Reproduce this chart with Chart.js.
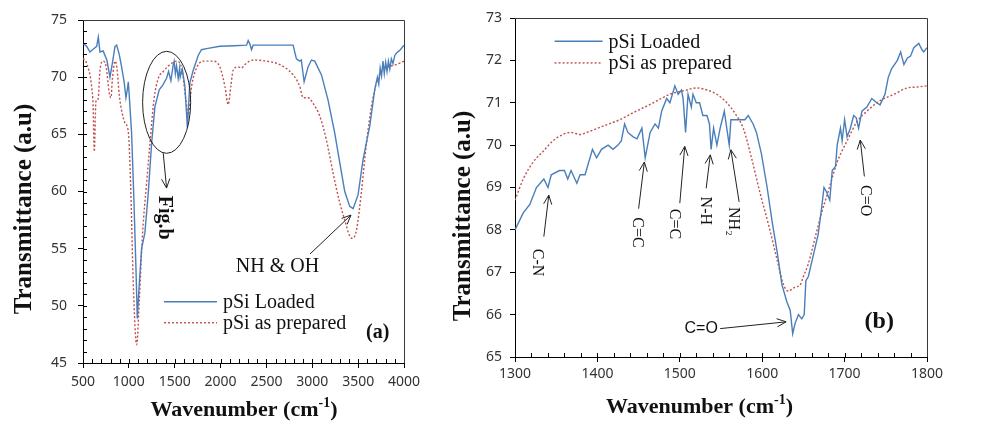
<!DOCTYPE html>
<html lang="en">
<head>
<meta charset="UTF-8">
<title>FTIR - pSi Loaded vs pSi as prepared</title>
<script src="https://cdn.jsdelivr.net/npm/chart.js"></script>
<style>
  html, body { margin: 0; padding: 0; background: #fff; }
  .panel { position: absolute; top: 0; }
  #panelA { left: 0; width: 420px; height: 421px; }
  #panelB { left: 420px; width: 569px; height: 421px; }
</style>
</head>
<body>
<div class="panel" id="panelA"><canvas id="chartA" width="420" height="421"></canvas></div>
<div class="panel" id="panelB"><canvas id="chartB" width="569" height="421"></canvas></div>
<script>
// ---- panel (a): full range ----
const aLoadedWn = [500, 540, 576, 620, 649, 667, 685, 720, 760, 794, 820, 849, 867, 895, 921, 950, 968, 985, 994, 1005,
  1030, 1055, 1077, 1092, 1114, 1139, 1175, 1212, 1248, 1284, 1331, 1370, 1411, 1433, 1458, 1484, 1494, 1507, 1520, 1538,
  1554, 1560, 1583, 1611, 1638,
  1665, 1702, 1756, 1792, 1847, 1992, 2150, 2283, 2301, 2320, 2337, 2355, 2500, 2650, 2791, 2815, 2827, 2863, 2880, 2911,
  2954, 2991, 3027, 3100, 3172, 3245, 3300, 3354, 3408, 3445, 3499, 3554, 3626, 3681, 3710, 3725, 3740, 3755, 3771, 3785,
  3800, 3815, 3830, 3845, 3862, 3880, 3900, 3916, 3960, 4000];
const aLoadedT = [72.96, 72.7, 72.2, 72.5, 72.7, 73.5, 72.2, 72.3, 71.5, 70.0, 71.2, 72.7, 72.8, 72.0, 70.9, 69.5, 68.2, 69.0, 69.6, 68.3,
  65.1, 59.3, 53.4, 48.9, 52.0, 55.0, 56.4, 59.9, 64.2, 67.4, 68.9, 69.3, 69.9, 70.5, 69.7, 71.1, 71.4, 70.3, 71.0, 69.9,
  70.8, 70.0, 70.7, 69.2, 65.6,
  69.5, 70.6, 71.9, 72.4, 72.5, 72.7, 72.75, 72.8, 73.2, 72.9, 72.4, 72.8, 72.8, 72.8, 72.8, 72.0, 71.6, 71.4, 71.5, 69.6,
  70.9, 71.5, 71.4, 70.2, 68.0, 65.1, 62.5, 60.0, 58.7, 58.5, 59.7, 62.8, 65.7, 68.9, 70.0, 69.4, 70.8, 70.1, 71.4, 70.3,
  71.3, 70.5, 71.4, 70.7, 71.6, 71.2, 71.9, 72.1, 72.4, 72.8];
const aPrepWn = [500, 540, 594, 610, 623, 640, 649, 665, 685, 721, 750, 787, 805, 820, 849, 870, 896, 921, 957, 994,
  1019, 1048, 1085, 1114, 1150, 1193, 1230, 1273, 1321, 1375, 1448, 1520, 1575, 1622, 1647, 1684, 1738, 1811, 1920, 1992,
  2047, 2083, 2112, 2137, 2192, 2228, 2264, 2355, 2500, 2646, 2791, 2863, 2900, 2954, 3009, 3081, 3154, 3227, 3300, 3354,
  3408, 3438, 3481, 3535, 3590, 3644, 3699, 3753, 3826, 3916, 4000];
const aPrepT = [71.65, 71.2, 69.2, 67.5, 63.5, 67.8, 68.0, 68.1, 70.6, 71.4, 71.0, 68.6, 68.2, 69.8, 71.4, 70.8, 68.4, 67.1, 66.0, 65.2,
  60.7, 52.0, 46.6, 50.5, 56.4, 60.7, 64.2, 68.0, 69.9, 70.5, 71.1, 71.4, 70.8, 68.0, 66.7, 69.2, 70.8, 71.4, 71.4, 70.9,
  69.2, 67.6, 69.2, 70.6, 70.9, 70.8, 71.1, 71.5, 71.4, 71.1, 70.2, 69.2, 68.2, 68.2, 67.7, 66.6, 64.5, 61.6, 59.0, 57.5,
  56.1, 55.9, 56.6, 59.9, 64.2, 67.4, 69.5, 70.5, 70.9, 71.1, 71.4];
const aXTicks = [500, 1000, 1500, 2000, 2500, 3000, 3500, 4000];
const aYTicks = [45, 50, 55, 60, 65, 70, 75];

// ---- panel (b): 1300-1800 zoom ----
const bLoadedWn = [1300, 1310, 1318, 1326, 1335, 1340, 1344, 1354, 1360, 1364, 1368, 1375, 1379, 1385, 1394, 1399, 1405, 1413, 1419, 1425,
  1429, 1433, 1437, 1443, 1448, 1454, 1458, 1464, 1470, 1474, 1478, 1484, 1488, 1494, 1498, 1502, 1504, 1507, 1510, 1514,
  1516, 1520, 1524, 1528, 1533, 1536, 1538, 1541, 1545, 1549, 1554, 1557, 1560, 1562, 1567, 1573, 1579, 1583, 1589, 1593,
  1599, 1606, 1612, 1618, 1624, 1630, 1634, 1637, 1640, 1644, 1648, 1651, 1653, 1656, 1662, 1668, 1672, 1675, 1678, 1682,
  1685, 1689, 1691, 1695, 1697, 1700, 1703, 1707, 1711, 1714, 1717, 1721, 1727, 1733, 1739, 1743, 1749, 1753, 1757, 1764,
  1768, 1772, 1776, 1780, 1784, 1790, 1794, 1796, 1800];
const bLoadedT = [68.0, 68.4, 68.6, 69.0, 69.2, 69.0, 69.3, 69.4, 69.4, 69.2, 69.4, 69.1, 69.3, 69.3, 69.9, 69.7, 69.9, 70.0, 69.9, 70.0,
  70.1, 70.5, 70.3, 70.2, 70.15, 70.4, 69.7, 70.3, 70.5, 70.4, 70.8, 71.1, 71.0, 71.4, 71.2, 71.3, 71.1, 70.3, 71.2, 70.9,
  71.2, 71.0, 71.0, 70.7, 70.7, 70.5, 69.9, 70.4, 70.0, 70.4, 70.8, 70.4, 70.0, 70.6, 70.6, 70.6, 70.6, 70.7, 70.5, 70.3,
  69.8, 69.0, 68.2, 67.5, 66.7, 66.3, 66.1, 65.55, 65.8, 66.0, 65.9, 66.0, 66.8, 66.9, 67.4, 67.9, 68.5, 69.0, 68.9, 68.7,
  69.4, 69.5, 70.0, 70.4, 70.1, 70.6, 70.2, 70.4, 70.7, 70.65, 70.4, 70.8, 70.9, 71.1, 71.0, 70.95, 71.2, 71.6, 71.8, 72.0,
  72.2, 71.9, 72.05, 72.1, 72.3, 72.4, 72.25, 72.2, 72.3];
const bPrepWn = [1300, 1310, 1322, 1334, 1346, 1358, 1368, 1379, 1387, 1407, 1427, 1447, 1468, 1488, 1508, 1520, 1533, 1545, 1557, 1567,
  1577, 1587, 1597, 1608, 1618, 1626, 1632, 1636, 1640, 1646, 1650, 1656, 1664, 1672, 1680, 1691, 1703, 1715, 1727, 1743,
  1760, 1776, 1788, 1800];
const bPrepT = [68.7, 69.2, 69.6, 69.85, 70.1, 70.25, 70.3, 70.25, 70.3, 70.45, 70.6, 70.8, 71.0, 71.2, 71.3, 71.35, 71.3, 71.2, 71.0, 70.75,
  70.4, 69.7, 68.9, 68.1, 67.3, 66.7, 66.55, 66.6, 66.65, 66.7, 66.9, 67.2, 67.8, 68.4, 68.9, 69.6, 70.1, 70.55, 70.8, 71.05,
  71.2, 71.35, 71.37, 71.4];
const bXTicks = [1300, 1400, 1500, 1600, 1700, 1800];
const bYTicks = [65, 66, 67, 68, 69, 70, 71, 72, 73];

const seriesNames = ['pSi Loaded', 'pSi as prepared'];

const SERIF = '"Liberation Serif", "Times New Roman", serif';
const SANS = '"Noto Sans", "Liberation Sans", sans-serif';
Chart.defaults.font.family = SANS;
Chart.defaults.color = '#333';

function pairs(xs, ys) { return xs.map((x, i) => ({ x: x, y: ys[i] })); }

// open arrow head, like the office drawing tool
function arrow(ctx, x1, y1, x2, y2) {
  const ang = Math.atan2(y2 - y1, x2 - x1), h = 10, w = 0.42;
  ctx.beginPath();
  ctx.moveTo(x1, y1); ctx.lineTo(x2, y2);
  ctx.moveTo(x2 - h * Math.cos(ang - w), y2 - h * Math.sin(ang - w));
  ctx.lineTo(x2, y2);
  ctx.lineTo(x2 - h * Math.cos(ang + w), y2 - h * Math.sin(ang + w));
  ctx.stroke();
}

// frame, minor ticks, titles, legend and annotations
const deco = {
  id: 'deco',
  beforeDatasetsDraw(chart) {
    const { ctx, chartArea: a } = chart;
    ctx.save();
    ctx.strokeStyle = '#3a3a3a';
    ctx.lineWidth = 1;
    ctx.beginPath();
    ctx.moveTo(a.left, Math.round(a.top) + 0.5);
    ctx.lineTo(Math.round(a.right) + 0.5, Math.round(a.top) + 0.5);
    ctx.lineTo(Math.round(a.right) + 0.5, a.bottom);
    ctx.stroke();
    ctx.restore();
  },
  afterDraw(chart, args, o) {
    const { ctx, chartArea: a } = chart;
    const sx = chart.scales.x, sy = chart.scales.y;
    const P = (x, y) => [sx.getPixelForValue(x), sy.getPixelForValue(y)];
    ctx.save();
    ctx.strokeStyle = '#000';
    ctx.lineWidth = 1;

    // minor ticks pointing into the plot
    ctx.beginPath();
    const nx = Math.round((sx.max - sx.min) / o.xMinor);
    for (let i = 1; i < nx; i++) {
      const x = Math.round(sx.getPixelForValue(sx.min + i * o.xMinor)) + 0.5;
      ctx.moveTo(x, a.bottom); ctx.lineTo(x, a.bottom - 4);
    }
    if (o.yMinor) {
      const ny = Math.round((sy.max - sy.min) / o.yMinor);
      for (let i = 1; i < ny; i++) {
        const y = Math.round(sy.getPixelForValue(sy.min + i * o.yMinor)) + 0.5;
        ctx.moveTo(a.left, y); ctx.lineTo(a.left + 4, y);
      }
    }
    ctx.stroke();

    // axis titles
    ctx.fillStyle = '#111';
    ctx.textBaseline = 'alphabetic';
    const t = o.xTitle;
    ctx.font = 'bold 22px ' + SERIF;
    const w1 = ctx.measureText('Wavenumber (cm').width;
    ctx.font = 'bold 14px ' + SERIF;
    const w2 = ctx.measureText('-1').width;
    ctx.font = 'bold 22px ' + SERIF;
    const w3 = ctx.measureText(')').width;
    let x0 = t.cx - (w1 + w2 + w3) / 2;
    ctx.textAlign = 'left';
    ctx.fillText('Wavenumber (cm', x0, t.base);
    ctx.font = 'bold 14px ' + SERIF;
    ctx.fillText('-1', x0 + w1, t.base - 9);
    ctx.font = 'bold 22px ' + SERIF;
    ctx.fillText(')', x0 + w1 + w2, t.base);

    const yt = o.yTitle;
    ctx.save();
    ctx.translate(yt.base, yt.cy);
    ctx.rotate(-Math.PI / 2);
    ctx.textAlign = 'center';
    ctx.font = 'bold 25px ' + SERIF;
    ctx.fillText('Transmittance (a.u)', 0, 0);
    ctx.restore();

    // legend inside the plot
    const lg = o.legend;
    const [lx, ly] = P(lg.x, lg.y);
    chart.data.datasets.forEach((ds, i) => {
      const y = ly + i * lg.row;
      ctx.save();
      ctx.strokeStyle = ds.borderColor;
      ctx.lineWidth = ds.borderWidth;
      ctx.setLineDash(ds.borderDash || []);
      ctx.beginPath();
      ctx.moveTo(lx, y); ctx.lineTo(lx + lg.len, y);
      ctx.stroke();
      ctx.restore();
      ctx.font = '20px ' + SERIF;
      ctx.textAlign = 'left';
      ctx.textBaseline = 'middle';
      ctx.fillStyle = '#111';
      ctx.fillText(ds.label, lx + lg.len + 6, y + 1);
    });

    // annotations
    ctx.strokeStyle = '#222';
    ctx.fillStyle = '#111';
    o.notes.forEach(n => {
      if (n.type === 'ellipse') {
        const [cx, cy] = P(n.x, n.y);
        const rx = Math.abs(sx.getPixelForValue(n.x + n.rx) - cx);
        const ry = Math.abs(sy.getPixelForValue(n.y + n.ry) - cy);
        ctx.beginPath();
        ctx.ellipse(cx, cy, rx, ry, 0, 0, Math.PI * 2);
        ctx.stroke();
      } else if (n.type === 'arrow') {
        const [x1, y1] = P(n.x1, n.y1), [x2, y2] = P(n.x2, n.y2);
        arrow(ctx, x1, y1, x2, y2);
      } else {
        const [x, y] = P(n.x, n.y);
        ctx.save();
        ctx.translate(x, y);
        ctx.rotate(n.rot || 0);
        ctx.font = n.font;
        ctx.textAlign = 'center';
        ctx.textBaseline = 'middle';
        ctx.fillText(n.text, 0, 0);
        ctx.restore();
      }
    });
    ctx.restore();
  }
};

function makeChart(id, d) {
  return new Chart(document.getElementById(id), {
    type: 'line',
    data: {
      datasets: [
        { label: seriesNames[0], data: pairs(d.lw, d.lt), borderColor: '#4a7ebb', borderWidth: 1.4,
          pointRadius: 0, tension: 0 },
        { label: seriesNames[1], data: pairs(d.pw, d.pt), borderColor: '#c0504d', borderWidth: 1.4,
          borderDash: [2, 2], pointRadius: 0, cubicInterpolationMode: 'monotone' }
      ]
    },
    options: {
      responsive: false,
      animation: false,
      layout: { padding: d.pad },
      scales: {
        x: {
          type: 'linear', min: d.xt[0], max: d.xt[d.xt.length - 1],
          afterBuildTicks: s => { s.ticks = d.xt.map(v => ({ value: v })); },
          // fixed band height; edge labels may overhang the plot like in the original
          afterFit: s => { s.height = d.xh; s.paddingLeft = 0; s.paddingRight = 0; },
          ticks: { callback: v => String(v), font: { size: 14 }, color: '#333', padding: d.xpad, maxRotation: 0, autoSkip: false },
          grid: { drawOnChartArea: false, tickLength: 5, tickColor: '#000' },
          border: { color: '#000', width: 1 }
        },
        y: {
          min: d.yt[0], max: d.yt[d.yt.length - 1],
          afterBuildTicks: s => { s.ticks = d.yt.map(v => ({ value: v })); },
          afterFit: s => { s.width = d.yw; },
          ticks: { callback: v => String(v), font: { size: 14 }, color: '#333', padding: d.ypad },
          grid: { drawOnChartArea: false, tickLength: 5, tickColor: '#000' },
          border: { color: '#000', width: 1 }
        }
      },
      plugins: {
        legend: { display: false },
        tooltip: { enabled: false },
        deco: d.deco
      }
    },
    plugins: [deco]
  });
}

makeChart('chartA', {
  lw: aLoadedWn, lt: aLoadedT, pw: aPrepWn, pt: aPrepT, xt: aXTicks, yt: aYTicks,
  pad: { left: 0, top: 20, right: 16, bottom: 0 }, xh: 58, yw: 83, xpad: 6, ypad: 11,
  deco: {
    xMinor: 100, yMinor: 1,
    xTitle: { cx: 244, base: 416 },
    yTitle: { cy: 209, base: 31 },
    legend: { x: 1383, y: 50.36, len: 53, row: 21 },
    notes: [
      { type: 'ellipse', x: 1412, y: 67.8, rx: 262, ry: 4.46 },
      { type: 'arrow', x1: 1375, y1: 63.35, x2: 1411, y2: 60.3 },
      { type: 'text', text: 'Fig.b', x: 1380, y: 57.7, rot: Math.PI / 2, font: 'bold 20px ' + SERIF },
      { type: 'text', text: 'NH & OH', x: 2621, y: 53.42, font: '20px ' + SERIF },
      { type: 'arrow', x1: 2975, y1: 54.53, x2: 3422, y2: 57.94 },
      { type: 'text', text: '(a)', x: 3713, y: 47.6, font: 'bold 20px ' + SERIF }
    ]
  }
});

makeChart('chartB', {
  lw: bLoadedWn, lt: bLoadedT, pw: bPrepWn, pt: bPrepT, xt: bXTicks, yt: bYTicks,
  pad: { left: 0, top: 18, right: 62, bottom: 0 }, xh: 64, yw: 95, xpad: 4, ypad: 8,
  deco: {
    xMinor: 20, yMinor: 0,
    xTitle: { cx: 279.5, base: 413 },
    yTitle: { cy: 216, base: 49.5 },
    legend: { x: 1348, y: 72.45, len: 48, row: 21.6 },
    notes: [
      { type: 'text', text: 'C-N', x: 1327, y: 67.23, rot: Math.PI / 2, font: '16px ' + SERIF },
      { type: 'arrow', x1: 1335, y1: 67.84, x2: 1341, y2: 68.82 },
      { type: 'text', text: 'C=C', x: 1448, y: 67.94, rot: Math.PI / 2, font: '16px ' + SERIF },
      { type: 'arrow', x1: 1450, y1: 68.5, x2: 1457, y2: 69.6 },
      { type: 'text', text: 'C=C', x: 1493, y: 68.14, rot: Math.PI / 2, font: '16px ' + SERIF },
      { type: 'arrow', x1: 1500, y1: 68.63, x2: 1506, y2: 69.97 },
      { type: 'text', text: 'N-H', x: 1530.5, y: 68.45, rot: Math.PI / 2, font: '16px ' + SERIF },
      { type: 'arrow', x1: 1532, y1: 68.98, x2: 1537, y2: 69.77 },
      { type: 'text', text: 'NH\u2082', x: 1565, y: 68.2, rot: Math.PI / 2, font: '16px ' + SERIF },
      { type: 'arrow', x1: 1572, y1: 68.66, x2: 1562, y2: 69.89 },
      { type: 'text', text: 'C=O', x: 1725, y: 68.69, rot: Math.PI / 2, font: '16px ' + SERIF },
      { type: 'arrow', x1: 1724, y1: 69.26, x2: 1719, y2: 70.12 },
      { type: 'text', text: 'C=O', x: 1526, y: 65.67, font: '16px "Liberation Sans", sans-serif' },
      { type: 'arrow', x1: 1549, y1: 65.67, x2: 1629, y2: 65.83 },
      { type: 'text', text: '(b)', x: 1742, y: 65.83, font: 'bold 24px ' + SERIF }
    ]
  }
});
</script>
</body>
</html>
